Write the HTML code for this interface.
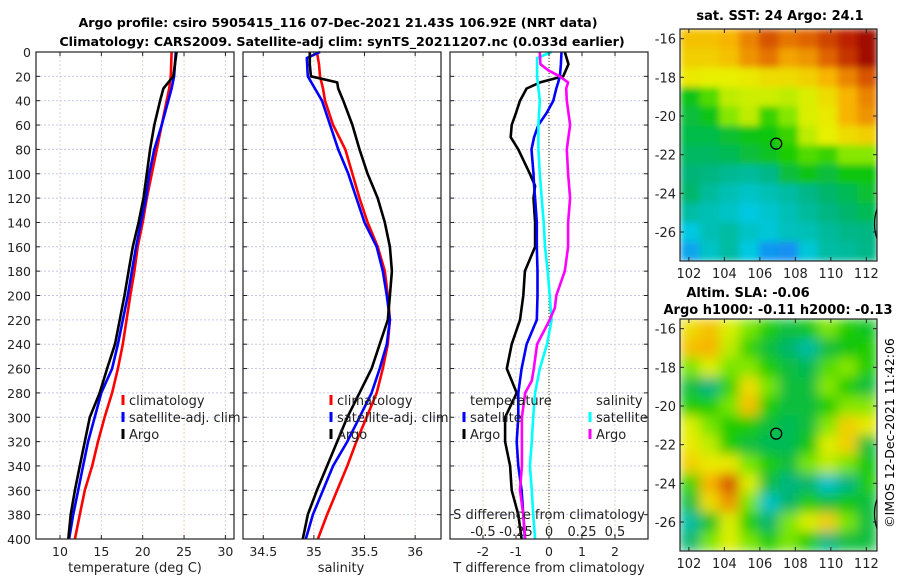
<!DOCTYPE html>
<html><head><meta charset="utf-8"><style>
html,body{margin:0;padding:0;background:#fff;width:900px;height:580px;overflow:hidden}
svg{display:block;font-family:"DejaVu Sans","Liberation Sans",sans-serif}
</style></head><body>
<svg id="fig" width="900" height="580" viewBox="0 0 900 580">
<defs>
<filter id="blurS" x="0" y="0" width="1" height="1"><feGaussianBlur stdDeviation="3.5" edgeMode="duplicate"/></filter>
<filter id="blurL" x="0" y="0" width="1" height="1"><feGaussianBlur stdDeviation="6" edgeMode="duplicate"/></filter>
<clipPath id="clipTop"><rect x="680" y="29" width="197" height="232"/></clipPath>
<clipPath id="clipBot"><rect x="680" y="319" width="197" height="232"/></clipPath>
</defs>
<g font-weight="bold" font-size="12.7" text-anchor="middle">
<text x="338" y="27">Argo profile: csiro 5905415_116 07-Dec-2021 21.43S 106.92E (NRT data)</text>
<text x="342" y="46">Climatology: CARS2009. Satellite-adj clim: synTS_20211207.nc (0.033d earlier)</text>
</g>
<text x="780" y="20" font-weight="bold" font-size="13" text-anchor="middle">sat. SST: 24 Argo: 24.1</text>
<text x="748" y="297" font-weight="bold" font-size="13" text-anchor="middle">Altim. SLA: -0.06</text>
<text x="778" y="314" font-weight="bold" font-size="13" text-anchor="middle">Argo h1000: -0.11 h2000: -0.13</text>
<text transform="translate(894,433) rotate(-90)" font-size="12.5" text-anchor="middle">©IMOS 12-Dec-2021 11:42:06</text>
<g id="plots"></g>
</svg>
<script>
// ---- profile data ----
const depths = [0,20,30,40,60,80,100,120,140,160,180,200,240,260,280,300,320,340,360,380,400];
const tempClim = [23.5,23.4,23.2,22.9,22.3,21.7,21.1,20.5,20.0,19.4,19.0,18.5,17.6,17.0,16.3,15.4,14.6,13.9,13.0,12.4,11.8];
const tempSat  = [24.0,23.8,23.5,23.1,22.3,21.4,20.8,20.4,19.8,19.2,18.7,18.2,17.0,16.3,15.0,14.2,13.4,12.8,12.2,11.6,11.1];
const tempArgo = [24.1,23.7,22.5,22.1,21.4,20.9,20.5,20.1,19.5,18.8,18.3,17.8,16.65,15.7,14.8,13.6,13.0,12.4,11.8,11.3,11.0];
const salDepths = [0,10,20,30,40,60,80,100,120,140,160,180,200,220,240,260,280,300,320,340,360,380,400];
const salClim = [35.03,35.05,35.06,35.09,35.11,35.19,35.31,35.38,35.45,35.53,35.63,35.70,35.73,35.75,35.73,35.68,35.62,35.52,35.42,35.33,35.23,35.13,35.04];
const salSatDepths = [0,5,20,30,40,60,80,100,120,140,160,180,200,220,240,260,280,300,320,340,360,380,400];
const salSat  = [35.06,34.93,34.94,35.01,35.08,35.16,35.24,35.34,35.42,35.50,35.62,35.68,35.72,35.75,35.72,35.65,35.57,35.45,35.33,35.19,35.09,34.99,34.92];
const salArgoDepths = [0,10,20,25,30,40,60,80,100,120,140,160,180,200,220,240,260,280,300,320,340,360,380,400];
const salArgo = [34.96,34.96,34.97,35.23,35.24,35.29,35.38,35.45,35.53,35.63,35.70,35.75,35.77,35.75,35.73,35.65,35.57,35.45,35.33,35.23,35.13,35.03,34.94,34.89];
// differences
const dDepths = [0,10,20,25,30,40,50,60,70,80,100,110,120,140,160,180,200,220,240,260,280,300,320,340,360,380,400];
const tDiffArgo = [0.48,0.59,0.43,-0.27,-0.68,-0.88,-1.0,-1.13,-1.16,-0.93,-0.58,-0.42,-0.47,-0.42,-0.42,-0.73,-0.78,-0.88,-1.13,-1.28,-0.98,-1.33,-1.33,-1.18,-1.13,-0.93,-0.83];
const tDiffSat  = [0.38,0.36,0.33,0.28,0.22,0.13,-0.07,-0.32,-0.45,-0.53,-0.47,-0.45,-0.42,-0.37,-0.37,-0.35,-0.35,-0.37,-0.68,-0.83,-0.93,-0.93,-0.98,-0.93,-0.83,-0.78,-0.73];
const sDepths = [0,5,20,40,60,80,100,120,140,160,180,200,220,240,260,280,300,320,340,360,380,400];
const sDiffSat = [0.02,-0.09,-0.09,-0.07,-0.08,-0.08,-0.07,-0.055,-0.04,-0.03,-0.01,0.005,0.02,-0.015,-0.07,-0.105,-0.12,-0.13,-0.145,-0.13,-0.12,-0.105];
const sArgoDepths = [0,10,15,20,25,30,40,60,80,100,120,140,160,180,200,210,220,240,260,270,280,300,320,340,360,380,400];
const sDiffArgo = [-0.07,-0.065,-0.005,0.08,0.145,0.13,0.135,0.16,0.135,0.145,0.16,0.145,0.145,0.12,0.055,0.045,0.005,-0.09,-0.115,-0.13,-0.18,-0.205,-0.205,-0.205,-0.22,-0.195,-0.18];
const depthTicks = [0,20,40,60,80,100,120,140,160,180,200,220,240,260,280,300,320,340,360,380,400];
const tTicks = [10,15,20,25,30];
const sTicks = [34.5,35,35.5,36];
const tdTicks = [-2,-1,0,1,2];
const sdTicks = [-0.5,-0.25,0,0.25,0.5];
const sdLabels = ["-0.5","-0.25","0","0.25","0.5"];
// ---- map data (colormap index 0..1) ----
const sstGrid = [
[0.70,0.70,0.72,0.78,0.84,0.80,0.82,0.86,0.90,0.97],
[0.68,0.68,0.70,0.76,0.80,0.74,0.76,0.82,0.88,0.97],
[0.64,0.63,0.63,0.64,0.66,0.66,0.68,0.72,0.78,0.84],
[0.45,0.52,0.60,0.61,0.61,0.60,0.62,0.66,0.72,0.78],
[0.42,0.45,0.56,0.60,0.50,0.56,0.62,0.64,0.72,0.76],
[0.41,0.41,0.43,0.45,0.46,0.50,0.60,0.63,0.66,0.68],
[0.39,0.39,0.40,0.42,0.44,0.48,0.52,0.50,0.56,0.56],
[0.37,0.36,0.34,0.33,0.35,0.42,0.45,0.42,0.46,0.46],
[0.38,0.33,0.30,0.28,0.30,0.32,0.35,0.38,0.40,0.43],
[0.32,0.30,0.28,0.25,0.27,0.30,0.33,0.36,0.38,0.40],
[0.25,0.30,0.32,0.28,0.26,0.29,0.30,0.33,0.35,0.36],
[0.20,0.28,0.32,0.25,0.18,0.17,0.26,0.32,0.33,0.35]];
const slaGrid = [
[0.66,0.70,0.62,0.55,0.48,0.42,0.46,0.55,0.48,0.44],
[0.70,0.72,0.60,0.50,0.42,0.38,0.32,0.42,0.46,0.48],
[0.55,0.62,0.55,0.56,0.48,0.42,0.40,0.52,0.56,0.48],
[0.42,0.36,0.50,0.66,0.55,0.42,0.42,0.56,0.48,0.42],
[0.48,0.48,0.55,0.70,0.48,0.42,0.42,0.48,0.56,0.56],
[0.62,0.55,0.48,0.48,0.42,0.40,0.42,0.56,0.68,0.64],
[0.64,0.60,0.48,0.42,0.40,0.40,0.46,0.62,0.68,0.42],
[0.68,0.64,0.64,0.55,0.48,0.42,0.55,0.60,0.55,0.46],
[0.50,0.72,0.84,0.62,0.42,0.36,0.38,0.28,0.36,0.48],
[0.42,0.66,0.76,0.55,0.28,0.38,0.48,0.42,0.46,0.42],
[0.32,0.44,0.62,0.48,0.38,0.55,0.62,0.68,0.55,0.42],
[0.38,0.55,0.62,0.55,0.48,0.55,0.48,0.36,0.42,0.42]];
const lonTicks = [102,104,106,108,110,112];
const latTicks = [-16,-18,-20,-22,-24,-26];
const argoLon = 106.92, argoLat = -21.43;

const NS = "http://www.w3.org/2000/svg";
const root = document.getElementById('plots');
function el(tag, attrs, parent){ const e=document.createElementNS(NS,tag); for(const k in attrs) e.setAttribute(k,attrs[k]); (parent||root).appendChild(e); return e; }
function txt(x,y,s,attrs,parent){ const e=el('text',Object.assign({x:x,y:y,'font-size':12.5,fill:'#222'},attrs||{}),parent); e.textContent=s; return e; }

const TOP=52, BOT=539;
const yD = d => TOP + d*(BOT-TOP)/400;
function lin(d0,d1,r0,r1){ return v => r0 + (v-d0)*(r1-r0)/(d1-d0); }

function panel(name, x0, x1, xs, ticks){
  const g = el('g',{});
  
  
  depthTicks.forEach(d=>{ el('line',{x1:x0,x2:x1,y1:yD(d),y2:yD(d),stroke:'#c4c8ec','stroke-width':1,'stroke-dasharray':'2,2'},g); });
  ticks.forEach(t=>{ el('line',{x1:xs(t),x2:xs(t),y1:TOP,y2:BOT,stroke:'#ead0c4','stroke-width':1,'stroke-dasharray':'2,2'},g); });
  return g;
}
function frame(g,x0,x1,xs,ticks,labels,showDepth){
  el('rect',{x:x0,y:TOP,width:x1-x0,height:BOT-TOP,fill:'none',stroke:'#222','stroke-width':1.2},g);
  depthTicks.forEach(d=>{
    el('line',{x1:x0,x2:x0+4,y1:yD(d),y2:yD(d),stroke:'#222'},g);
    el('line',{x1:x1-4,x2:x1,y1:yD(d),y2:yD(d),stroke:'#222'},g);
    if(showDepth){ const t=txt(31,yD(d)+5,String(d),{'text-anchor':'end'},g);   }
  });
  ticks.forEach((t,i)=>{
    el('line',{x1:xs(t),x2:xs(t),y1:BOT-4,y2:BOT,stroke:'#222'},g);
    el('line',{x1:xs(t),x2:xs(t),y1:TOP,y2:TOP+4,stroke:'#222'},g);
    if(labels){ const l=txt(xs(t),556,labels[i],{'text-anchor':'middle'},g);   }
  });
}
function line(g,xs,vals,ds,color,name){
  const pts = vals.map((v,i)=>xs(v).toFixed(1)+','+yD(ds[i]).toFixed(1)).join(' ');
  const p = el('polyline',{points:pts,fill:'none',stroke:color,'stroke-width':2.6,'stroke-linejoin':'round'},g);
  
  
}
function legend(g,x,y,items){
  items.forEach((it,i)=>{
    if(it.c){ el('line',{x1:x,x2:x,y1:y+i*17-6,y2:y+i*17+4,stroke:it.c,'stroke-width':3},g); }
    const t=txt(x+6,y+i*17+4,it.t,{'font-size':13},g);
    
    
  });
}

// Panel 1: temperature
const xT = lin(7.1,31.04,36,234);
const g1 = panel('temperature-panel',36,234,xT,tTicks);
line(g1,xT,tempClim,depths,'#ff0000','temp-climatology-line');
line(g1,xT,tempSat,depths,'#0000ff','temp-satellite-line');
line(g1,xT,tempArgo,depths,'#000000','temp-argo-line');
frame(g1,36,234,xT,tTicks,tTicks.map(String),true);
legend(g1,123,401,[{c:'#ff0000',t:'climatology'},{c:'#0000ff',t:'satellite-adj. clim'},{c:'#000',t:'Argo'}]);
txt(135,572,'temperature (deg C)',{'text-anchor':'middle','font-size':13},g1);

// Panel 2: salinity
const xS = lin(34.3,36.255,243,441);
const g2 = panel('salinity-panel',243,441,xS,sTicks);
line(g2,xS,salClim,salDepths,'#ff0000','sal-climatology-line');
line(g2,xS,salSat,salSatDepths,'#0000ff','sal-satellite-line');
line(g2,xS,salArgo,salArgoDepths,'#000000','sal-argo-line');
frame(g2,243,441,xS,sTicks,sTicks.map(String),false);
legend(g2,331,401,[{c:'#ff0000',t:'climatology'},{c:'#0000ff',t:'satellite-adj. clim'},{c:'#000',t:'Argo'}]);
txt(341,572,'salinity',{'text-anchor':'middle','font-size':13},g2);

// Panel 3: differences
const xTD = lin(-3,3,450,648);
const xSD = lin(-0.75,0.75,450,648);
const g3 = panel('difference-panel',450,648,xTD,tdTicks);
el('line',{x1:xTD(0),x2:xTD(0),y1:TOP,y2:BOT,stroke:'#555533','stroke-width':1.2,'stroke-dasharray':'1,2'},g3);
line(g3,xTD,tDiffArgo,dDepths,'#000000','tdiff-argo-line');
line(g3,xTD,tDiffSat,dDepths,'#0000ff','tdiff-satellite-line');
line(g3,xSD,sDiffSat,sDepths,'#00ffff','sdiff-satellite-line');
line(g3,xSD,sDiffArgo,sArgoDepths,'#ff00ff','sdiff-argo-line');
frame(g3,450,648,xTD,tdTicks,tdTicks.map(String),false);
legend(g3,464,401,[{t:'temperature'},{c:'#0000ff',t:'satellite'},{c:'#000',t:'Argo'}]);
legend(g3,590,401,[{t:'salinity'},{c:'#00ffff',t:'satellite'},{c:'#ff00ff',t:'Argo'}]);
txt(549,519,'S difference from climatology',{'text-anchor':'middle','font-size':13},g3);
sdTicks.forEach((t,i)=>{ const l=txt(xSD(t),536,sdLabels[i],{'text-anchor':'middle','font-size':13},g3);   });
txt(549,572,'T difference from climatology',{'text-anchor':'middle','font-size':13},g3);

// Maps
const cstops = [[0,'#1010a0'],[0.12,'#1e6eff'],[0.25,'#00c8e0'],[0.37,'#00b478'],[0.47,'#10c800'],[0.55,'#78e600'],[0.63,'#e8f000'],[0.72,'#f8b400'],[0.82,'#e06400'],[0.92,'#b41400'],[1,'#960000']];
function hex(h){ return [parseInt(h.substr(1,2),16),parseInt(h.substr(3,2),16),parseInt(h.substr(5,2),16)]; }
function cmap(v){
  for(let i=1;i<cstops.length;i++){ if(v<=cstops[i][0]){ const a=cstops[i-1],b=cstops[i]; const f=(v-a[0])/(b[0]-a[0]); const ca=hex(a[1]),cb=hex(b[1]); return 'rgb('+ca.map((c,k)=>Math.round(c+(cb[k]-c)*f)).join(',')+')'; } }
  return cstops[cstops.length-1][1];
}
function map(name,grid,top,filter,clip){
  const g = el('g',{});
  
  
  const x0=680,x1=877,y1=top+232;
  const lonX = lin(101.5,112.6,x0,x1);
  const latY = lin(-15.5,-27.5,top,y1);
  const cg = el('g',{'clip-path':'url(#'+clip+')'},g);
  const hg = el('g',{filter:'url(#'+filter+')'},cg);
  const cols=grid[0].length;
  const dl=(112.6-101.5)/cols;
  grid.forEach((row,r)=>row.forEach((v,c)=>{
    const rx=lonX(101.5+c*dl), ry=latY(-15.5-r);
    const cell=el('rect',{x:rx,y:ry,width:lonX(101.5+(c+1)*dl)-rx+0.5,height:latY(-16.5-r)-ry+0.5,fill:cmap(v)},hg);
    
    
  }));
  el('path',{d:'M'+(x1)+','+latY(-24.8)+' q-5,15 0,30',fill:'none',stroke:'#000','stroke-width':1.2},cg);
  el('rect',{x:x0,y:top,width:x1-x0,height:232,fill:'none',stroke:'#222','stroke-width':1.2},g);
  const ring=el('circle',{cx:lonX(argoLon),cy:latY(argoLat),r:5.5,fill:'none',stroke:'#000','stroke-width':1.3},g);
  
  
  lonTicks.forEach(t=>{
    el('line',{x1:lonX(t),x2:lonX(t),y1:y1-4,y2:y1,stroke:'#222'},g);
    el('line',{x1:lonX(t),x2:lonX(t),y1:top,y2:top+4,stroke:'#222'},g);
    const l=txt(lonX(t),y1+17,String(t),{'text-anchor':'middle','font-size':13},g);
    
    
  });
  latTicks.forEach(t=>{
    el('line',{x1:x0,x2:x0+4,y1:latY(t),y2:latY(t),stroke:'#222'},g);
    el('line',{x1:x1-4,x2:x1,y1:latY(t),y2:latY(t),stroke:'#222'},g);
    const l=txt(676,latY(t)+5,String(t),{'text-anchor':'end','font-size':13},g);
    
    
  });
}
map('sst-map',sstGrid,29,'blurS','clipTop');
map('sla-map',slaGrid,319,'blurL','clipBot');
</script>
</body></html>
